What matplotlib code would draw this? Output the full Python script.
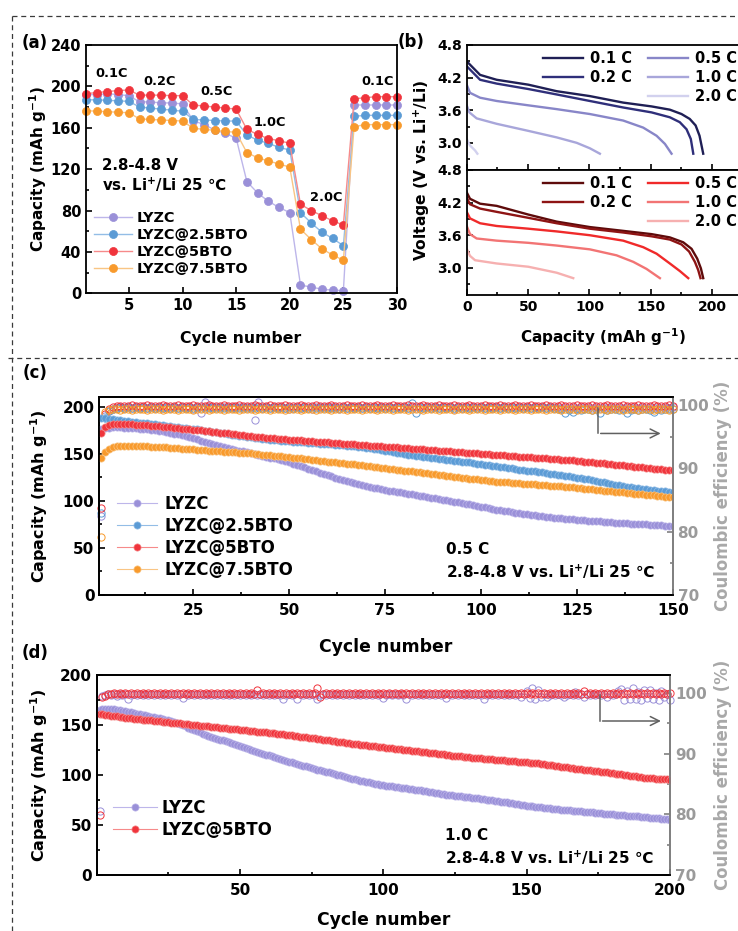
import numpy as np
import matplotlib
matplotlib.use("Agg")
import matplotlib.pyplot as plt
from matplotlib.lines import Line2D
from matplotlib.ticker import MultipleLocator

plt.rcParams['font.family'] = ['DejaVu Sans']
plt.rcParams['font.weight'] = 'bold'
plt.rcParams['mathtext.fontset'] = 'dejavusans'
plt.rcParams['mathtext.default'] = 'bf'
plt.rcParams['axes.linewidth'] = 1.3

# ---------------- (a) rate capability ----------------
cyc_a = np.arange(1, 31)
rate_lyzc = [192, 192, 193, 192, 191, 185, 185, 184, 184, 183,
             167, 163, 158, 154.5, 150, 108, 97, 89, 83, 78,
             8, 6, 4, 3, 2.5, 182, 182, 182, 182, 182]
rate_25 = [187, 187, 186.5, 186, 185.5, 180, 179, 178, 177, 176,
           168, 167.5, 167, 166.5, 166.5, 153, 148, 145, 141, 138.5,
           78, 68, 59, 53, 46, 171, 172, 172, 172, 172]
rate_5 = [193, 194, 195, 196, 196.5, 191.5, 191.5, 191.5, 191, 191,
          182, 181, 180, 179, 178, 158.5, 153.5, 149.5, 147.5, 145,
          86, 80, 75, 70, 66, 188, 189, 190, 190, 190]
rate_75 = [176.5, 176, 175.5, 175, 174.5, 168.5, 168, 167.5, 167, 166.5,
           159.5, 158.5, 157.5, 156.5, 155.5, 136, 131, 128, 125, 122,
           62, 52, 43, 37, 32, 161, 163, 163, 163, 163]
rate_labels = ['0.1C', '0.2C', '0.5C', '1.0C', '2.0C', '0.1C']
rate_label_x = [3.4, 7.9, 13.2, 18.1, 23.4, 28.2]
rate_label_y = [212, 205, 195, 165, 93, 205]

names = ['LYZC', 'LYZC@2.5BTO', 'LYZC@5BTO', 'LYZC@7.5BTO']
mk_colors = ['#9a90d8', '#5b9bd5', '#f0343c', '#f89a2c']
ln_colors = ['#bdb6ea', '#93bde6', '#f68a8a', '#f9c584']

# ---------------- (b) discharge profiles ----------------
rates_b = ['0.1 C', '0.2 C', '0.5 C', '1.0 C', '2.0 C']
top_cap = [
    [0, 10.9, 24.4, 50.2, 73.3, 100.3, 127.5, 150.6, 165.5, 175.0, 181.7, 186.5, 189.7, 192.7],
    [0, 10.9, 24.4, 50.2, 73.3, 100.3, 127.5, 150.6, 165.5, 173.6, 179.1, 182.6, 184.6],
    [0, 2.7, 10.9, 24.4, 50.2, 73.3, 100.3, 127.5, 143.8, 154.7, 161.5, 166.9],
    [0, 2.2, 8.1, 24.4, 50.2, 73.3, 89.6, 100.3, 108.5],
    [0, 2.7, 6.8, 8.7],
]
top_v = [
    [4.50, 4.25, 4.16, 4.07, 3.95, 3.86, 3.74, 3.67, 3.61, 3.53, 3.44, 3.32, 3.13, 2.80],
    [4.41, 4.16, 4.09, 3.99, 3.89, 3.77, 3.65, 3.56, 3.47, 3.38, 3.25, 3.07, 2.80],
    [4.07, 3.92, 3.83, 3.77, 3.69, 3.62, 3.53, 3.41, 3.28, 3.13, 2.98, 2.80],
    [3.69, 3.56, 3.45, 3.35, 3.22, 3.10, 3.00, 2.90, 2.80],
    [3.07, 2.95, 2.86, 2.80],
]
bot_cap = [
    [0, 2.7, 10.9, 24.4, 50.2, 73.3, 100.3, 127.5, 150.6, 165.5, 176.4, 183.2, 187.8, 190.8, 192.7],
    [0, 2.7, 10.9, 24.4, 50.2, 73.3, 100.3, 127.5, 150.6, 165.5, 175.0, 181.2, 185.9, 188.6, 190.5],
    [0, 2.7, 10.9, 24.4, 50.2, 73.3, 100.3, 127.5, 143.8, 154.7, 165.5, 173.7, 180.5],
    [0, 2.7, 8.1, 24.4, 50.2, 73.3, 100.3, 122.1, 135.7, 146.5, 157.4],
    [0, 2.7, 6.8, 24.4, 50.2, 73.3, 86.8],
]
bot_v = [
    [4.39, 4.27, 4.18, 4.14, 3.98, 3.85, 3.75, 3.68, 3.62, 3.56, 3.47, 3.35, 3.17, 2.99, 2.81],
    [4.29, 4.17, 4.09, 4.03, 3.92, 3.82, 3.72, 3.65, 3.58, 3.52, 3.43, 3.30, 3.11, 2.96, 2.81],
    [4.03, 3.91, 3.82, 3.77, 3.72, 3.67, 3.60, 3.50, 3.38, 3.26, 3.08, 2.94, 2.81],
    [3.77, 3.62, 3.54, 3.50, 3.46, 3.41, 3.34, 3.23, 3.11, 2.98, 2.81],
    [3.35, 3.22, 3.14, 3.08, 3.02, 2.91, 2.81],
]
top_colors = ['#1f1f55', '#2f2f7a', '#8886c8', '#a8a6da', '#d2d1ee']
bot_colors = ['#5e0b0b', '#8e1414', '#f02a2a', '#f27474', '#f6b0b0']

# ---------------- (c) cycling at 0.5 C ----------------
cyc_c = np.arange(1, 151)
cap_lyzc_c = [
    176.0, 177.0, 177.5, 178.0, 178.0, 178.0, 177.8, 177.6, 177.3, 177.0,
    176.7, 176.3, 175.9, 175.5, 175.0, 174.5, 173.9, 173.2, 172.4, 171.5,
    170.6, 169.6, 168.6, 167.6, 166.5, 165.3, 164.1, 162.9, 161.7, 160.5,
    159.4, 158.3, 157.2, 156.1, 155.0, 154.2, 153.4, 152.6, 151.8, 151.0,
    150.0, 149.0, 148.0, 147.0, 146.0, 145.0, 144.0, 143.0, 142.0, 140.8,
    139.5, 138.2, 136.9, 135.6, 134.2, 132.8, 131.4, 130.0, 128.7, 127.4,
    126.1, 124.8, 123.5, 122.3, 121.1, 120.0, 118.9, 117.8, 116.8, 115.8,
    114.9, 114.1, 113.3, 112.5, 111.7, 111.0, 110.3, 109.7, 109.1, 108.4,
    107.7, 107.0, 106.3, 105.6, 104.9, 104.2, 103.5, 102.8, 102.1, 101.4,
    100.7, 100.0, 99.3, 98.6, 97.8, 97.0, 96.2, 95.4, 94.6, 93.8,
    93.0, 92.2, 91.4, 90.7, 90.0, 89.3, 88.7, 88.1, 87.5, 86.9,
    86.3, 85.7, 85.2, 84.7, 84.2, 83.7, 83.2, 82.7, 82.3, 81.9,
    81.5, 81.1, 80.7, 80.3, 80.0, 79.6, 79.3, 79.0, 78.7, 78.4,
    78.1, 77.8, 77.5, 77.2, 76.9, 76.6, 76.3, 76.0, 75.7, 75.5,
    75.3, 75.1, 74.9, 74.7, 74.5, 74.2, 74.0, 73.8, 73.5, 73.3]
cap_25_c = [
    188.0, 187.5, 187.0, 186.5, 186.0, 185.5, 185.0, 184.5, 184.0, 183.5,
    183.0, 182.6, 182.2, 181.8, 181.3, 180.8, 180.3, 179.8, 179.3, 178.8,
    178.3, 177.8, 177.3, 176.8, 176.3, 175.8, 175.2, 174.6, 174.0, 173.4,
    172.8, 172.2, 171.6, 171.0, 170.4, 169.8, 169.2, 168.6, 168.0, 167.4,
    166.9, 166.4, 165.9, 165.5, 165.1, 164.7, 164.3, 163.9, 163.5, 163.2,
    162.9, 162.6, 162.3, 162.0, 161.7, 161.4, 161.1, 160.8, 160.5, 160.2,
    159.9, 159.6, 159.3, 159.0, 158.7, 158.3, 157.9, 157.4, 156.9, 156.4,
    155.8, 155.2, 154.6, 154.0, 153.3, 152.6, 151.9, 151.2, 150.5, 149.8,
    149.1, 148.5, 147.9, 147.3, 146.8, 146.3, 145.8, 145.3, 144.8, 144.3,
    143.8, 143.3, 142.8, 142.3, 141.8, 141.3, 140.8, 140.2, 139.6, 139.0,
    138.4, 137.8, 137.2, 136.6, 136.0, 135.5, 135.0, 134.4, 133.8, 133.2,
    132.7, 132.2, 131.7, 131.2, 130.7, 130.2, 129.6, 129.0, 128.4, 127.8,
    127.2, 126.6, 126.0, 125.4, 124.8, 124.2, 123.5, 122.8, 122.0, 121.2,
    120.4, 119.6, 118.8, 118.0, 117.2, 116.4, 115.7, 115.0, 114.4, 113.8,
    113.2, 112.7, 112.2, 111.7, 111.2, 110.8, 110.4, 110.0, 109.7, 109.4]
cap_5_c = [
    172.0, 178.0, 180.5, 181.5, 182.0, 182.0, 181.8, 181.6, 181.3, 181.0,
    180.8, 180.5, 180.2, 179.9, 179.6, 179.2, 178.8, 178.4, 178.0, 177.6,
    177.2, 176.8, 176.4, 176.0, 175.6, 175.2, 174.8, 174.4, 174.0, 173.6,
    173.1, 172.6, 172.1, 171.6, 171.1, 170.6, 170.1, 169.6, 169.1, 168.6,
    168.2, 167.8, 167.4, 167.0, 166.6, 166.3, 166.0, 165.7, 165.4, 165.1,
    164.8, 164.5, 164.2, 163.9, 163.6, 163.3, 163.0, 162.7, 162.4, 162.1,
    161.8, 161.5, 161.2, 160.9, 160.6, 160.3, 160.0, 159.7, 159.4, 159.1,
    158.8, 158.5, 158.2, 157.9, 157.6, 157.3, 157.0, 156.7, 156.4, 156.1,
    155.8, 155.5, 155.2, 154.9, 154.6, 154.3, 154.0, 153.7, 153.4, 153.1,
    152.8, 152.5, 152.2, 151.9, 151.6, 151.3, 151.0, 150.7, 150.4, 150.1,
    149.8, 149.5, 149.2, 148.9, 148.6, 148.3, 148.0, 147.7, 147.4, 147.1,
    146.8, 146.5, 146.2, 145.9, 145.6, 145.3, 145.0, 144.7, 144.4, 144.1,
    143.8, 143.5, 143.2, 142.9, 142.6, 142.2, 141.8, 141.4, 141.0, 140.6,
    140.2, 139.8, 139.4, 139.0, 138.6, 138.2, 137.8, 137.3, 136.8, 136.3,
    135.9, 135.5, 135.1, 134.7, 134.3, 133.9, 133.6, 133.3, 133.0, 132.7]
cap_75_c = [
    145.0, 152.0, 155.5, 157.0, 157.8, 158.2, 158.3, 158.3, 158.3, 158.2,
    158.1, 158.0, 157.9, 157.7, 157.5, 157.3, 157.0, 156.7, 156.4, 156.1,
    155.8, 155.5, 155.2, 154.9, 154.6, 154.3, 154.0, 153.7, 153.4, 153.1,
    152.8, 152.5, 152.3, 152.0, 151.8, 151.5, 151.3, 151.0, 150.7, 150.4,
    150.0, 149.6, 149.2, 148.8, 148.4, 148.0, 147.6, 147.2, 146.8, 146.4,
    146.0, 145.6, 145.2, 144.8, 144.3, 143.8, 143.3, 142.8, 142.3, 141.8,
    141.3, 140.8, 140.4, 140.0, 139.6, 139.2, 138.7, 138.2, 137.7, 137.2,
    136.7, 136.2, 135.7, 135.2, 134.7, 134.2, 133.7, 133.2, 132.7, 132.2,
    131.7, 131.2, 130.7, 130.2, 129.7, 129.2, 128.7, 128.2, 127.7, 127.2,
    126.7, 126.2, 125.7, 125.2, 124.7, 124.2, 123.7, 123.2, 122.7, 122.2,
    121.7, 121.3, 120.9, 120.5, 120.1, 119.8, 119.5, 119.2, 118.9, 118.6,
    118.3, 118.0, 117.7, 117.4, 117.1, 116.8, 116.5, 116.2, 115.9, 115.6,
    115.3, 115.0, 114.6, 114.2, 113.8, 113.4, 113.0, 112.6, 112.2, 111.8,
    111.4, 111.0, 110.6, 110.2, 109.8, 109.4, 109.0, 108.6, 108.2, 107.8,
    107.4, 107.0, 106.6, 106.2, 105.8, 105.4, 105.0, 104.6, 104.2, 103.8]

ce_lyzc_c = [
    82.5, 98.3, 99.1, 99.4, 99.5, 99.6, 99.5, 99.6, 99.5, 99.6,
    99.5, 99.6, 99.5, 99.6, 99.5, 99.6, 99.5, 99.6, 99.5, 99.6,
    99.5, 99.6, 99.5, 99.6, 99.4, 99.6, 98.7, 100.5, 99.6, 99.5,
    99.6, 99.5, 99.6, 99.5, 99.6, 99.5, 99.6, 99.5, 99.6, 99.5,
    97.6, 100.4, 99.5, 99.6, 99.5, 99.6, 99.5, 99.6, 99.5, 99.4,
    99.5, 99.6, 99.5, 99.6, 99.5, 99.4, 99.6, 99.5, 99.6, 99.5,
    99.6, 99.5, 99.4, 99.6, 99.5, 99.6, 99.5, 99.6, 99.5, 99.6,
    99.5, 99.6, 99.5, 99.6, 99.5, 99.6, 99.5, 99.6, 99.5, 99.6,
    99.5, 99.6, 99.5, 99.6, 99.5, 99.6, 99.5, 99.6, 99.5, 99.6,
    99.5, 99.6, 99.4, 99.6, 99.5, 99.6, 99.5, 99.6, 99.5, 99.6,
    99.5, 99.6, 99.5, 99.6, 99.5, 99.6, 99.5, 99.6, 99.5, 99.6,
    99.5, 99.6, 99.5, 99.6, 99.5, 99.6, 99.5, 99.6, 99.5, 99.6,
    99.5, 99.6, 99.5, 99.6, 99.5, 99.6, 99.5, 99.6, 99.5, 99.6,
    99.5, 99.6, 99.5, 99.6, 99.5, 99.6, 99.5, 99.6, 99.5, 99.6,
    99.5, 99.6, 99.5, 99.6, 99.5, 99.6, 99.5, 99.6, 99.5, 99.6]
ce_25_c = [
    83.0, 98.0, 99.0, 99.4, 99.5, 99.6, 99.5, 99.6, 99.5, 99.6,
    99.5, 99.6, 99.5, 99.6, 99.5, 99.6, 99.5, 99.6, 99.5, 99.6,
    99.5, 99.6, 99.5, 99.6, 99.5, 99.6, 99.5, 99.6, 99.5, 99.6,
    99.5, 99.6, 99.5, 99.6, 99.5, 99.6, 99.5, 99.6, 99.5, 99.6,
    99.5, 99.6, 99.5, 99.6, 99.5, 99.6, 99.5, 99.6, 99.5, 99.6,
    99.5, 99.6, 99.5, 99.6, 99.5, 99.6, 99.5, 99.6, 99.5, 99.6,
    99.5, 99.6, 99.5, 99.6, 99.5, 99.6, 99.5, 99.6, 99.5, 99.6,
    99.5, 99.6, 99.5, 99.6, 99.5, 99.6, 99.5, 99.6, 99.5, 99.6,
    99.5, 100.3, 98.7, 99.6, 99.5, 99.6, 99.5, 99.6, 99.5, 99.6,
    99.5, 99.6, 99.5, 99.6, 99.5, 99.6, 99.5, 99.6, 99.5, 99.6,
    99.5, 99.6, 99.5, 99.6, 99.5, 99.6, 99.5, 99.6, 99.5, 99.6,
    99.5, 99.6, 99.5, 99.6, 99.5, 99.6, 99.5, 99.6, 99.5, 99.4,
    99.3, 98.8, 99.2, 98.9, 99.3, 99.2, 99.4, 99.3, 99.2, 99.3,
    98.8, 99.3, 99.2, 99.4, 99.3, 99.2, 99.3, 98.7, 99.2, 99.3,
    99.2, 99.3, 99.4, 99.2, 98.9, 99.3, 99.2, 99.3, 99.4, 99.3]
ce_5_c = [
    83.7, 98.5, 99.4, 99.7, 99.8, 99.9, 99.8, 99.9, 100.0, 99.9,
    99.8, 99.9, 100.0, 99.9, 99.8, 99.9, 100.0, 99.9, 99.8, 99.9,
    100.0, 99.9, 99.8, 99.9, 100.0, 99.9, 99.8, 99.9, 100.0, 99.9,
    99.8, 99.9, 100.0, 99.9, 99.8, 99.9, 100.0, 99.9, 99.8, 99.9,
    100.0, 99.9, 99.8, 99.9, 100.0, 99.9, 99.8, 99.9, 100.0, 99.9,
    99.8, 99.9, 100.0, 99.9, 99.8, 99.9, 100.0, 99.9, 99.8, 99.9,
    100.0, 99.9, 99.8, 99.9, 100.0, 99.9, 99.8, 99.9, 100.0, 99.9,
    99.8, 99.9, 100.0, 99.9, 99.8, 99.9, 100.0, 99.9, 99.8, 99.9,
    100.0, 99.9, 99.8, 99.9, 100.0, 99.9, 99.8, 99.9, 100.0, 99.9,
    99.8, 99.9, 100.0, 99.9, 99.8, 99.9, 100.0, 99.9, 99.8, 99.9,
    100.0, 99.9, 99.8, 99.9, 100.0, 99.9, 99.8, 99.9, 100.0, 99.9,
    99.8, 99.9, 100.0, 99.9, 99.8, 99.9, 100.0, 99.9, 99.8, 99.9,
    100.0, 99.9, 99.8, 99.9, 100.0, 99.9, 99.8, 99.9, 100.0, 99.9,
    99.8, 99.9, 100.0, 99.9, 99.8, 99.9, 100.0, 99.9, 99.8, 99.9,
    100.0, 99.9, 99.8, 99.9, 100.0, 99.9, 99.8, 99.9, 100.0, 99.9]
ce_75_c = [
    79.2, 98.9, 99.2, 99.3, 99.3, 99.2, 99.4, 99.3, 99.2, 99.3,
    99.4, 99.3, 99.2, 99.3, 99.4, 99.3, 99.2, 99.3, 99.4, 99.3,
    99.2, 99.3, 99.4, 99.3, 99.2, 99.3, 99.4, 99.3, 99.2, 99.3,
    99.4, 99.3, 99.2, 99.3, 99.4, 99.3, 99.2, 99.3, 99.4, 99.3,
    99.2, 99.3, 99.4, 99.3, 99.2, 99.3, 99.4, 99.3, 99.2, 99.3,
    99.4, 99.3, 99.2, 99.3, 99.4, 99.3, 99.2, 99.3, 99.4, 99.3,
    99.2, 99.3, 99.4, 99.3, 99.2, 99.3, 99.4, 99.3, 99.2, 99.3,
    99.4, 99.3, 99.2, 99.3, 99.4, 99.3, 99.2, 99.3, 99.4, 99.3,
    99.2, 99.3, 99.4, 99.3, 99.2, 99.3, 99.4, 99.3, 99.2, 99.3,
    99.4, 99.3, 99.2, 99.3, 99.4, 99.3, 99.2, 99.3, 99.4, 99.3,
    99.2, 99.3, 99.4, 99.3, 99.2, 99.3, 99.4, 99.3, 99.2, 99.3,
    99.4, 99.3, 99.2, 99.3, 99.4, 99.3, 99.2, 99.3, 99.4, 99.3,
    99.2, 99.3, 99.4, 99.3, 99.2, 99.3, 99.4, 99.3, 99.2, 99.3,
    99.4, 99.3, 99.2, 99.3, 99.4, 99.3, 99.2, 99.3, 99.4, 99.3,
    99.2, 99.3, 99.4, 99.3, 99.2, 99.3, 99.4, 99.3, 99.2, 99.3]

# ---------------- (d) cycling at 1.0 C ----------------
cyc_d = np.arange(1, 201)
cap_lyzc_d = [
    165.5, 166.0, 166.2, 166.2, 166.0, 165.6, 165.2, 164.7, 164.2, 163.7,
    163.2, 162.6, 162.0, 161.4, 160.8, 160.2, 159.6, 159.0, 158.4, 157.8,
    157.2, 156.6, 156.0, 155.3, 154.6, 153.8, 152.9, 151.9, 150.9, 149.8,
    148.6, 147.4, 146.2, 145.0, 143.8, 142.6, 141.4, 140.2, 139.0, 137.8,
    137.0, 136.2, 135.4, 134.6, 133.8, 133.0, 132.1, 131.2, 130.2, 129.2,
    128.2, 127.2, 126.2, 125.2, 124.2, 123.2, 122.3, 121.4, 120.5, 119.6,
    118.7, 117.8, 116.9, 116.0, 115.1, 114.3, 113.5, 112.7, 111.9, 111.1,
    110.3, 109.5, 108.7, 107.9, 107.1, 106.3, 105.5, 104.8, 104.1, 103.4,
    102.7, 102.0, 101.2, 100.4, 99.6, 98.8, 98.0, 97.2, 96.4, 95.7,
    95.0, 94.4, 93.8, 93.2, 92.6, 92.0, 91.5, 91.0, 90.5, 90.0,
    89.5, 89.0, 88.6, 88.2, 87.8, 87.4, 87.0, 86.6, 86.2, 85.8,
    85.4, 85.0, 84.6, 84.2, 83.8, 83.4, 82.9, 82.4, 81.9, 81.4,
    80.9, 80.5, 80.1, 79.7, 79.3, 78.9, 78.6, 78.3, 78.0, 77.7,
    77.4, 77.0, 76.6, 76.2, 75.8, 75.4, 75.0, 74.6, 74.2, 73.8,
    73.4, 73.0, 72.6, 72.2, 71.8, 71.4, 71.0, 70.5, 70.0, 69.5,
    69.0, 68.6, 68.2, 67.9, 67.6, 67.3, 67.0, 66.7, 66.4, 66.1,
    65.8, 65.5, 65.2, 64.9, 64.6, 64.3, 64.0, 63.8, 63.6, 63.4,
    63.2, 63.0, 62.7, 62.4, 62.1, 61.8, 61.5, 61.2, 60.9, 60.6,
    60.3, 60.0, 59.8, 59.6, 59.4, 59.2, 59.0, 58.8, 58.6, 58.4,
    58.1, 57.8, 57.5, 57.2, 56.9, 56.6, 56.3, 56.0, 55.7, 55.4]
cap_5_d = [
    161.0, 160.6, 160.2, 159.8, 159.4, 159.0, 158.6, 158.2, 157.8, 157.4,
    157.0, 156.7, 156.4, 156.1, 155.8, 155.5, 155.2, 154.9, 154.6, 154.3,
    154.0, 153.7, 153.4, 153.1, 152.8, 152.5, 152.2, 151.9, 151.6, 151.3,
    151.0, 150.7, 150.4, 150.1, 149.8, 149.5, 149.2, 148.9, 148.6, 148.3,
    148.0, 147.7, 147.4, 147.1, 146.8, 146.5, 146.2, 145.9, 145.6, 145.3,
    145.0, 144.7, 144.4, 144.1, 143.8, 143.5, 143.2, 142.9, 142.6, 142.4,
    142.2, 141.8, 141.5, 141.1, 140.8, 140.4, 140.0, 139.6, 139.2, 138.8,
    138.5, 138.1, 137.8, 137.4, 137.0, 136.7, 136.3, 135.9, 135.5, 135.1,
    134.7, 134.3, 133.9, 133.5, 133.1, 132.7, 132.3, 131.9, 131.5, 131.0,
    130.6, 130.3, 130.0, 129.7, 129.4, 129.1, 128.8, 128.5, 128.2, 127.8,
    127.5, 127.2, 126.9, 126.5, 126.2, 125.8, 125.5, 125.1, 124.8, 124.4,
    124.1, 123.7, 123.4, 123.0, 122.7, 122.3, 122.0, 121.6, 121.3, 120.9,
    120.6, 120.2, 119.9, 119.5, 119.2, 118.9, 118.6, 118.3, 118.0, 117.7,
    117.4, 117.1, 116.8, 116.6, 116.4, 116.1, 115.8, 115.6, 115.4, 115.2,
    114.9, 114.6, 114.4, 114.1, 113.9, 113.6, 113.4, 113.1, 112.9, 112.6,
    112.4, 112.1, 111.9, 111.6, 111.3, 110.9, 110.5, 110.1, 109.7, 109.3,
    108.9, 108.5, 108.1, 107.7, 107.3, 106.9, 106.5, 106.1, 105.7, 105.4,
    105.1, 104.8, 104.5, 104.2, 103.8, 103.4, 103.0, 102.6, 102.2, 101.8,
    101.4, 101.0, 100.6, 100.2, 99.8, 99.4, 99.0, 98.6, 98.2, 97.8,
    97.5, 97.2, 96.9, 96.6, 96.4, 96.2, 96.0, 95.8, 95.6, 95.4]
ce_lyzc_d = [
    80.6, 99.6, 99.7, 99.8, 99.7, 99.8, 99.6, 99.8, 99.7, 99.8,
    99.1, 99.7, 99.8, 99.7, 99.8, 99.7, 99.8, 99.7, 99.8, 99.7,
    99.8, 99.7, 99.8, 99.7, 99.8, 99.7, 99.8, 99.7, 99.8, 99.2,
    99.8, 99.7, 99.8, 99.7, 99.8, 99.7, 99.8, 99.7, 99.8, 99.7,
    99.8, 99.7, 99.8, 99.7, 99.8, 99.7, 99.8, 99.7, 99.8, 99.7,
    99.8, 99.7, 99.8, 99.7, 99.8, 99.7, 99.8, 99.7, 99.8, 99.7,
    99.8, 99.7, 99.8, 99.7, 99.0, 99.7, 99.8, 99.7, 99.8, 99.1,
    99.8, 99.7, 99.8, 99.7, 99.8, 99.7, 99.0, 99.7, 99.8, 99.7,
    99.8, 99.7, 99.8, 99.7, 99.8, 99.7, 99.8, 99.7, 99.8, 99.7,
    99.8, 99.7, 99.8, 99.7, 99.8, 99.7, 99.8, 99.7, 99.8, 99.2,
    99.7, 99.8, 99.7, 99.8, 99.7, 99.8, 99.7, 99.1, 99.8, 99.7,
    99.8, 99.7, 99.8, 99.7, 99.8, 99.7, 99.8, 99.7, 99.8, 99.7,
    99.8, 99.2, 99.8, 99.7, 99.8, 99.7, 99.8, 99.7, 99.8, 99.7,
    99.8, 99.7, 99.8, 99.7, 99.1, 99.7, 99.8, 99.7, 99.8, 99.7,
    99.8, 99.7, 99.8, 99.7, 99.8, 99.7, 99.8, 99.3, 99.8, 100.4,
    99.2, 100.9, 99.0, 100.5, 99.3, 99.8, 99.4, 99.7, 99.8, 99.7,
    99.8, 99.7, 99.3, 99.7, 99.8, 99.7, 100.2, 99.7, 99.8, 99.4,
    99.8, 99.7, 99.8, 99.7, 99.8, 99.7, 99.8, 99.3, 99.8, 99.7,
    99.8, 100.3, 100.7, 98.9, 100.3, 99.1, 100.8, 99.0, 100.2, 98.8,
    100.5, 99.2, 100.6, 99.0, 100.1, 98.9, 100.4, 99.3, 99.8, 98.9]
ce_5_d = [
    79.9, 99.3, 99.6, 99.8, 99.9, 100.0, 99.9, 100.0, 99.9, 100.0,
    99.9, 100.0, 99.9, 100.0, 99.9, 100.0, 99.9, 100.0, 99.9, 100.0,
    99.9, 100.0, 99.9, 100.0, 99.9, 100.0, 99.9, 100.0, 99.9, 100.0,
    99.9, 100.0, 99.9, 100.0, 99.9, 100.0, 99.9, 100.0, 99.9, 100.0,
    99.9, 100.0, 99.9, 100.0, 99.9, 100.0, 99.9, 100.0, 99.9, 100.0,
    99.9, 100.0, 99.9, 100.0, 99.9, 100.5, 99.9, 100.0, 99.9, 100.0,
    99.9, 100.0, 99.9, 100.0, 99.9, 100.0, 99.9, 100.0, 99.9, 100.0,
    99.9, 100.0, 99.9, 100.0, 99.9, 100.0, 100.8, 99.4, 99.9, 100.0,
    99.9, 100.0, 99.9, 100.0, 99.9, 100.0, 99.9, 100.0, 99.9, 100.0,
    99.9, 100.0, 99.9, 100.0, 99.9, 100.0, 99.9, 100.0, 99.9, 100.0,
    99.9, 100.0, 99.9, 100.0, 99.9, 100.0, 99.9, 100.0, 99.9, 100.0,
    99.9, 100.0, 99.9, 100.0, 99.9, 100.0, 99.9, 100.0, 99.9, 100.0,
    99.9, 100.0, 99.9, 100.0, 99.9, 100.0, 99.9, 100.0, 99.9, 100.0,
    99.9, 100.0, 99.9, 100.0, 99.9, 100.0, 99.9, 100.0, 99.9, 100.0,
    99.9, 100.0, 99.9, 100.0, 99.9, 100.0, 99.9, 100.0, 99.9, 100.0,
    99.9, 100.0, 99.9, 100.0, 99.9, 100.0, 99.9, 100.0, 99.9, 100.0,
    99.9, 100.0, 99.9, 100.0, 99.9, 100.0, 99.9, 100.0, 99.9, 100.3,
    99.9, 100.0, 99.9, 100.0, 99.9, 100.0, 99.9, 100.0, 99.9, 100.0,
    99.9, 100.0, 99.9, 100.0, 99.9, 100.0, 99.9, 100.0, 99.9, 100.0,
    99.9, 100.0, 99.9, 100.0, 99.9, 100.0, 99.9, 100.0, 99.9, 100.0]

W, H = 738, 931
fig = plt.figure(figsize=(W / 100, H / 100), dpi=100)


def px_axes(x0, y0, x1, y1):
    return fig.add_axes([x0 / W, 1 - y1 / H, (x1 - x0) / W, (y1 - y0) / H])


def ftext(x, y, s, **kw):
    fig.text(x / W, 1 - y / H, s, ha='center', va='center', fontweight='bold', **kw)


def style(ax, size, **kw):
    ax.tick_params(which='both', direction='in', labelsize=size, width=1.2, **kw)
    ax.tick_params(which='major', length=4)
    ax.tick_params(which='minor', length=2.5)
    for lab in ax.get_xticklabels() + ax.get_yticklabels():
        lab.set_fontweight('bold')


def bold_legend(lg):
    for t in lg.get_texts():
        t.set_fontweight('bold')


# dashed frame
dash = dict(transform=fig.transFigure, color='#3a3a3a', lw=0.9, ls=(0, (4, 3)))
fig.add_artist(Line2D([12 / W, 1], [1 - 16 / H] * 2, **dash))
fig.add_artist(Line2D([12 / W] * 2, [1 - 16 / H, 0], **dash))
fig.add_artist(Line2D([8 / W, 1], [1 - 358 / H] * 2, **dash))

# ---------------- panel (a) ----------------
ax = px_axes(86, 45, 397, 293.3)
for vals, name, mc, lc in zip([rate_lyzc, rate_25, rate_5, rate_75], names, mk_colors, ln_colors):
    ax.plot(cyc_a, vals, '-o', color=lc, lw=1.0, ms=5.8, mfc=mc, mec=mc, mew=0.5,
            label=name, clip_on=False)
ax.set_xlim(1, 30)
ax.set_ylim(0, 240)
ax.set_xticks(range(5, 31, 5))
ax.set_yticks(range(0, 241, 40))
ax.yaxis.set_minor_locator(MultipleLocator(20))
style(ax, 10.5)
for s, x, y in zip(rate_labels, rate_label_x, rate_label_y):
    ax.text(x, y, s, ha='center', va='center', fontsize=9.3, fontweight='bold')
ax.text(2.45, 124, '2.8-4.8 V', ha='left', va='center', fontsize=10.8, fontweight='bold')
ax.text(2.45, 105, 'vs. Li$^{+}$/Li 25 \u2103', ha='left', va='center', fontsize=10.8)
lg = ax.legend(loc='upper left', bbox_to_anchor=(0.027, 0.33), frameon=False,
               fontsize=10.4, handlelength=2.6, handletextpad=0.3, labelspacing=0.2,
               borderpad=0, borderaxespad=0)
bold_legend(lg)
ftext(38.3, 169, 'Capacity (mAh g$^{-1}$)', rotation=90, fontsize=11)
ftext(241, 338.3, 'Cycle number', fontsize=11.3)
ftext(34.7, 42.7, '(a)', fontsize=12)

# ---------------- panel (b) ----------------
axt = px_axes(466.7, 45, 749, 170)
axb = px_axes(466.7, 170, 749, 295)
blank = Line2D([], [], color='none')
for a, caps, vs, cols in [(axt, top_cap, top_v, top_colors), (axb, bot_cap, bot_v, bot_colors)]:
    hs = []
    for c, v, col, r in zip(caps, vs, cols, rates_b):
        h, = a.plot(c, v, color=col, lw=1.7, label=r)
        hs.append(h)
    a.set_xlim(0, 230)
    a.set_ylim(2.5, 4.8)
    a.set_yticks([3.0, 3.6, 4.2, 4.8])
    a.yaxis.set_minor_locator(MultipleLocator(0.3))
    a.set_xticks(range(0, 201, 50))
    a.xaxis.set_minor_locator(MultipleLocator(25))
    style(a, 10)
    handles = [hs[0], hs[1], blank, hs[2], hs[3], hs[4]]
    labels = ['0.1 C', '0.2 C', ' ', '0.5 C', '1.0 C', '2.0 C']
    lg = a.legend(handles, labels, ncol=2, loc='upper left', bbox_to_anchor=(0.27, 0.955),
                  frameon=False, fontsize=10.5, handlelength=2.74, handletextpad=0.48,
                  labelspacing=0.28, columnspacing=1.1, borderpad=0, borderaxespad=0)
    bold_legend(lg)
axt.tick_params(labelbottom=False)
ftext(421.7, 170, 'Voltage (V vs. Li$^{+}$/Li)', rotation=90, fontsize=11.2)
ftext(603, 336.7, 'Capacity (mAh g$^{-1}$)', fontsize=11)
ftext(410.7, 41.7, '(b)', fontsize=12)

gray = '#9a9a9a'


def cycling_panel(box, cyc, caps, ces, idx, xlim, ylim, ylim2, xticks, xminor,
                  notes, note_x, arrow, leg_anchor, hlen, hpad, letter, letter_xy, xl_y):
    ax = px_axes(*box)
    ax2 = ax.twinx()
    for ce, i in zip(ces, idx):
        ax2.plot(cyc, ce, 'o', ms=5.2, mfc='none', mec=mk_colors[i], mew=0.7, clip_on=False)
    for cap, i in zip(caps, idx):
        ax.plot(cyc, cap, '-o', color=ln_colors[i], lw=0.8, ms=5.2, mfc=mk_colors[i],
                mec=ln_colors[i], mew=0.5, label=names[i])
    ax.set_zorder(ax2.get_zorder() + 1)
    ax.patch.set_visible(False)
    ax.set_xlim(*xlim)
    ax.set_ylim(*ylim)
    ax2.set_ylim(*ylim2)
    ax.set_xticks(xticks)
    ax.xaxis.set_minor_locator(MultipleLocator(xminor))
    ax.set_yticks(range(0, 201, 50))
    ax.yaxis.set_minor_locator(MultipleLocator(25))
    ax2.set_yticks(range(70, 101, 10))
    ax2.yaxis.set_minor_locator(MultipleLocator(5))
    style(ax, 11)
    ax.tick_params(axis='x', pad=6)
    style(ax2, 11, colors=gray)
    ax2.tick_params(which='both', color='#808080')
    for a in (ax, ax2):
        a.spines['right'].set_color('#808080')
    for s, y in notes:
        ax.text(note_x, y, s, ha='left', va='center', fontsize=11, fontweight='bold')
    (x0, y0, y1, x1) = arrow
    ax.plot([x0, x0], [y0, y1], color='#606060', lw=1.1)
    ax.annotate('', xy=(x1, y1), xytext=(x0 - 0.1, y1),
                arrowprops=dict(arrowstyle='->', color='#606060', lw=1.1, mutation_scale=16))
    lg = ax.legend(loc='upper left', bbox_to_anchor=leg_anchor, frameon=False, fontsize=12,
                   handlelength=hlen, handletextpad=hpad, labelspacing=0.23, borderpad=0,
                   borderaxespad=0)
    bold_legend(lg)
    cy = (box[1] + box[3]) / 2
    ftext(39, cy, 'Capacity (mAh g$^{-1}$)', rotation=90, fontsize=11.5)
    ftext(723.3, cy, 'Coulombic efficiency (%)', rotation=90, fontsize=11.9, color='#a8a8a8')
    ftext((box[0] + box[2]) / 2, xl_y, 'Cycle number', fontsize=12.4)
    ftext(letter_xy[0], letter_xy[1], letter, fontsize=12)
    return ax


cycling_panel((99.3, 397.3, 672.7, 595), cyc_c,
              [cap_lyzc_c, cap_25_c, cap_5_c, cap_75_c],
              [ce_lyzc_c, ce_25_c, ce_5_c, ce_75_c], [0, 1, 2, 3],
              (0.5, 150), (0, 210), (70, 101.2), range(25, 151, 25), 12.5,
              [('0.5 C', 48.5), ('2.8-4.8 V vs. Li$^{+}$/Li 25 \u2103', 24.7)], 90.8,
              (130.6, 199, 171.6, 147.6), (0.03, 0.505), 2.4, 0.5, '(c)', (35, 373), 646.7)

cycling_panel((96.7, 675, 670, 875), cyc_d,
              [cap_lyzc_d, cap_5_d], [ce_lyzc_d, ce_5_d], [0, 2],
              (0, 200), (0, 200), (70, 103.0), range(50, 201, 50), 25,
              [('1.0 C', 40), ('2.8-4.8 V vs. Li$^{+}$/Li 25 \u2103', 16.7)], 121.5,
              (175.6, 180, 154, 197.8), (0.028, 0.38), 2.63, 0.28, '(d)', (35, 653), 920)

fig.savefig('out.png', dpi=100)
